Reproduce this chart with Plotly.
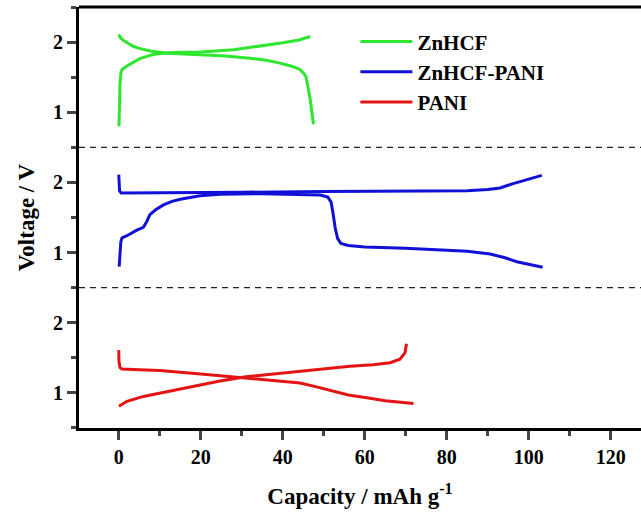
import plotly.graph_objects as go
from plotly.subplots import make_subplots

# Galvanostatic charge/discharge profiles (capacity in mAh/g, voltage in V)
znhcf_dis_cap = [0, 0.3, 1, 2, 3.5, 5, 8, 12, 20, 26, 32, 36, 39.3, 42, 44.2, 45.2, 45.7, 46.2, 46.7, 47.1, 47.5]
znhcf_dis_v = [2.11, 2.07, 2.03, 1.99, 1.94, 1.91, 1.87, 1.84, 1.82, 1.80, 1.77, 1.74, 1.70, 1.66, 1.61, 1.55, 1.50, 1.35, 1.19, 1.00, 0.83]
znhcf_chg_cap = [0.05, 0.15, 0.3, 0.5, 0.8, 2, 3.5, 5, 7, 9, 13, 20, 28, 32, 36, 40, 44, 46.7]
znhcf_chg_v = [0.80, 1.10, 1.40, 1.55, 1.61, 1.66, 1.71, 1.76, 1.80, 1.83, 1.85, 1.86, 1.89, 1.92, 1.95, 1.99, 2.03, 2.08]

pani_hyb_upper_cap = [0, 0.05, 0.2, 0.6, 10, 30, 50, 70, 85, 90, 93, 96, 100, 103.2]
pani_hyb_upper_v = [2.11, 2.00, 1.88, 1.85, 1.85, 1.86, 1.87, 1.87, 1.88, 1.90, 1.92, 1.98, 2.05, 2.10]
pani_hyb_lower_cap = [0.1, 0.2, 0.5, 0.8, 2, 4.4, 6, 6.8, 7.6, 9, 10.9, 13, 15, 19.8, 24.7, 35, 45, 49.1, 51, 51.8, 52.3, 52.8, 53.4, 54.2, 56, 60, 70, 78.4, 85, 90.6, 94, 97.1, 100, 103.4]
pani_hyb_lower_v = [0.80, 0.95, 1.15, 1.21, 1.24, 1.32, 1.36, 1.44, 1.54, 1.61, 1.68, 1.73, 1.76, 1.81, 1.83, 1.84, 1.83, 1.82, 1.79, 1.72, 1.55, 1.35, 1.20, 1.13, 1.10, 1.08, 1.06, 1.04, 1.02, 0.98, 0.93, 0.87, 0.83, 0.79]

pani_dis_cap = [0, 0.05, 0.3, 0.8, 5, 10, 20, 30, 40, 44.2, 48, 52.3, 56, 60.5, 65, 71.9]
pani_dis_v = [1.61, 1.45, 1.36, 1.34, 1.33, 1.32, 1.27, 1.22, 1.17, 1.14, 1.09, 1.02, 0.97, 0.93, 0.89, 0.85]
pani_chg_cap = [0.05, 1, 2, 6, 11.7, 19.8, 24.7, 31, 38, 44.2, 50, 56.4, 62, 66.2, 68.6, 69.8, 70.2]
pani_chg_v = [0.81, 0.85, 0.88, 0.95, 1.02, 1.12, 1.17, 1.23, 1.27, 1.31, 1.34, 1.38, 1.40, 1.43, 1.48, 1.57, 1.70]

names = ["ZnHCF", "ZnHCF-PANI", "PANI"]
colors = ["#2FE62F", "#1010D8", "#E41414"]

x_ticks = [0, 20, 40, 60, 80, 100, 120]
y_ticks = [1, 2]

curves = [
    (znhcf_dis_cap, znhcf_dis_v, znhcf_chg_cap, znhcf_chg_v),
    (pani_hyb_upper_cap, pani_hyb_upper_v, pani_hyb_lower_cap, pani_hyb_lower_v),
    (pani_dis_cap, pani_dis_v, pani_chg_cap, pani_chg_v),
]

FONT = "Liberation Serif"

fig = make_subplots(rows=3, cols=1, shared_xaxes=True, vertical_spacing=0)

for i, (c1, v1, c2, v2) in enumerate(curves):
    fig.add_trace(
        go.Scatter(
            x=c1 + [None] + c2,
            y=v1 + [None] + v2,
            mode="lines",
            name=names[i],
            line=dict(color=colors[i], width=3),
            connectgaps=False,
        ),
        row=i + 1, col=1,
    )

for r in range(1, 4):
    fig.update_yaxes(
        range=[0.5, 2.5], tickvals=y_ticks, ticks="outside", ticklen=9, tickwidth=2.5,
        showline=True, linewidth=3, linecolor="black", showgrid=False, zeroline=False,
        minor=dict(dtick=0.5, tick0=0.5, ticks="outside", ticklen=5, tickwidth=2.5, showgrid=False),
        tickfont=dict(family=FONT, size=20, color="black", weight="bold"),
        row=r, col=1,
    )
    fig.update_xaxes(
        range=[-9.7, 127.4], showgrid=False, zeroline=False, row=r, col=1,
    )

fig.update_xaxes(
    tickvals=x_ticks, ticks="outside", ticklen=9, tickwidth=2.5,
    showline=True, linewidth=3, linecolor="black",
    minor=dict(dtick=10, tick0=0, ticks="outside", ticklen=5, tickwidth=2.5, showgrid=False),
    tickfont=dict(family=FONT, size=20, color="black", weight="bold"),
    title=dict(text="Capacity / mAh g<sup>-1</sup>", standoff=21,
               font=dict(family=FONT, size=23, color="black", weight="bold")),
    row=3, col=1,
)
fig.update_yaxes(
    title=dict(text="Voltage / V", standoff=12,
               font=dict(family=FONT, size=23, color="black", weight="bold")),
    row=2, col=1,
)

# Top frame line and dashed separators between panels
fig.add_shape(type="line", xref="paper", yref="paper", x0=0, x1=1, y0=1, y1=1,
              line=dict(color="black", width=3))
for yref in ["y domain", "y2 domain"]:
    fig.add_shape(type="line", xref="paper", yref=yref, x0=0, x1=1, y0=0, y1=0,
                  line=dict(color="#222222", width=1.3, dash="6px,5px"))

fig.update_layout(
    width=641, height=513,
    margin=dict(l=79, r=0, t=7, b=85),
    paper_bgcolor="white", plot_bgcolor="white",
    font=dict(family=FONT, color="black", weight="bold"),
    showlegend=True,
    legend=dict(
        x=0.4918, y=0.966, xanchor="left", yanchor="top",
        bgcolor="rgba(0,0,0,0)", borderwidth=0,
        itemwidth=52,
        font=dict(family=FONT, size=21, color="black", weight="bold"),
        tracegroupgap=0,
    ),
)

fig.write_html("out.html")
